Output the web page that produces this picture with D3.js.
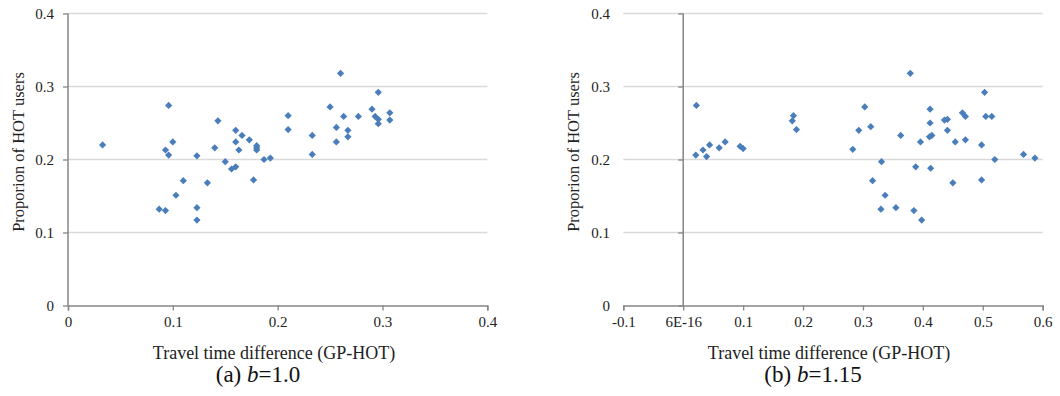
<!DOCTYPE html>
<html>
<head>
<meta charset="utf-8">
<script src="https://cdn.jsdelivr.net/npm/d3@7"></script>
<style>
  html, body { margin: 0; padding: 0; background: #fff; }
  svg { display: block; }
  svg text { font-family: "Liberation Serif", "Times New Roman", serif !important; }
</style>
</head>
<body>
<svg id="chart" width="1060" height="396"></svg>
<script>
// ---- Data ----
const yTicks = [0, 0.1, 0.2, 0.3, 0.4];
const yTickLabels = ["0", "0.1", "0.2", "0.3", "0.4"];

const xTicksA = [0, 0.1, 0.2, 0.3, 0.4];
const xTickLabelsA = ["0", "0.1", "0.2", "0.3", "0.4"];
const xTicksB = [-0.1, 0, 0.1, 0.2, 0.3, 0.4, 0.5, 0.6];
const xTickLabelsB = ["-0.1", "6E-16", "0.1", "0.2", "0.3", "0.4", "0.5", "0.6"];

// Panel (a) b=1.0
const xA = [0.033, 0.096, 0.100, 0.093, 0.096, 0.123, 0.143, 0.140, 0.110, 0.103,
            0.087, 0.093, 0.123, 0.123, 0.133, 0.150, 0.156, 0.160, 0.160, 0.160,
            0.163, 0.166, 0.173, 0.180, 0.180, 0.180, 0.177, 0.187, 0.193, 0.210,
            0.210, 0.233, 0.233, 0.250, 0.260, 0.256, 0.256, 0.263, 0.267, 0.267,
            0.277, 0.290, 0.296, 0.293, 0.296, 0.296, 0.307, 0.307];
const yA = [0.220, 0.274, 0.224, 0.213, 0.206, 0.205, 0.253, 0.216, 0.171, 0.151,
            0.132, 0.130, 0.134, 0.117, 0.168, 0.197, 0.187, 0.190, 0.240, 0.224,
            0.213, 0.233, 0.227, 0.219, 0.216, 0.213, 0.172, 0.200, 0.202, 0.260,
            0.241, 0.233, 0.207, 0.272, 0.318, 0.244, 0.224, 0.259, 0.240, 0.231,
            0.259, 0.269, 0.292, 0.259, 0.255, 0.249, 0.264, 0.254];

// Panel (b) b=1.15
const xB = [0.022, 0.021, 0.033, 0.039, 0.044, 0.060, 0.070, 0.095, 0.100, 0.184,
            0.182, 0.189, 0.283, 0.293, 0.303, 0.313, 0.331, 0.316, 0.337, 0.330,
            0.355, 0.363, 0.379, 0.385, 0.388, 0.396, 0.398, 0.412, 0.412, 0.411,
            0.415, 0.413, 0.436, 0.441, 0.441, 0.450, 0.454, 0.466, 0.471, 0.471,
            0.498, 0.498, 0.503, 0.505, 0.515, 0.520, 0.568, 0.587];
const yB = [0.274, 0.206, 0.213, 0.204, 0.220, 0.216, 0.224, 0.218, 0.215, 0.260,
            0.253, 0.241, 0.214, 0.240, 0.272, 0.245, 0.197, 0.171, 0.151, 0.132,
            0.134, 0.233, 0.318, 0.130, 0.190, 0.224, 0.117, 0.269, 0.250, 0.231,
            0.233, 0.188, 0.254, 0.255, 0.240, 0.168, 0.224, 0.264, 0.259, 0.227,
            0.220, 0.172, 0.292, 0.259, 0.259, 0.200, 0.207, 0.202];

const yTitle = "Proporion of HOT users";
const xTitle = "Travel time difference (GP-HOT)";

// ---- Drawing ----
const svg = d3.select("#chart");
const AXIS = "#868686", GRID = "#d9d9d9", MARK = "#4a7ebb";
const FONT = "Liberation Serif, Times New Roman, serif";

function panel(cfg) {
  const x = d3.scaleLinear().domain(cfg.xDomain).range(cfg.xRange);
  const y = d3.scaleLinear().domain([0, 0.4]).range([305.5, 13.5]);
  const g = svg.append("g").attr("font-family", FONT);

  // gridlines
  g.append("g").selectAll("line").data(yTicks.filter(d => d > 0)).join("line")
    .attr("x1", cfg.xRange[0]).attr("x2", cfg.xRange[1])
    .attr("y1", d => y(d)).attr("y2", d => y(d))
    .attr("stroke", GRID).attr("stroke-width", 1.3);

  // x axis
  const xAxis = d3.axisBottom(x).tickValues(cfg.xTicks)
    .tickFormat((d, i) => cfg.xLabels[i]).tickSize(5).tickPadding(6);
  const gx = g.append("g").attr("transform", `translate(0,${y(0)})`).call(xAxis)
    .attr("font-family", FONT);
  gx.select(".domain").attr("stroke", AXIS).attr("stroke-width", 1.5);
  gx.selectAll(".tick line").attr("stroke", AXIS).attr("stroke-width", 1.3);
  gx.selectAll(".tick text").attr("fill", "#222").attr("font-size", 15)
    .attr("font-family", FONT);

  // y axis line with ticks at x = 0 position
  const yAxis = d3.axisLeft(y).tickValues(yTicks).tickFormat("").tickSize(5);
  const gy = g.append("g").attr("transform", `translate(${x(cfg.yAxisAt)},0)`).call(yAxis);
  gy.select(".domain").attr("stroke", AXIS).attr("stroke-width", 1.5)
    .attr("d", `M0,${y(0)}V${y(0.4)}`);
  gy.selectAll(".tick line").attr("stroke", AXIS).attr("stroke-width", 1.3);

  // y tick labels at left
  g.append("g").selectAll("text").data(yTicks).join("text")
    .attr("x", cfg.yLabelX).attr("y", d => y(d)).attr("dy", "0.35em")
    .attr("text-anchor", "end").attr("font-size", 15).attr("fill", "#222")
    .attr("font-family", FONT)
    .text((d, i) => yTickLabels[i]);

  // markers
  const sym = d3.symbol().type(d3.symbolSquare).size(26);
  g.append("g").selectAll("path").data(cfg.xs.map((v, i) => [v, cfg.ys[i]])).join("path")
    .attr("d", sym)
    .attr("transform", d => `translate(${x(d[0])},${y(d[1])}) rotate(45)`)
    .attr("fill", MARK);

  // titles
  g.append("text").attr("transform", `translate(${cfg.yTitleX},152) rotate(-90)`)
    .attr("text-anchor", "middle").attr("font-size", 16.5).attr("fill", "#222")
    .attr("font-family", FONT)
    .text(yTitle);
  g.append("text").attr("x", cfg.xTitleX).attr("y", 359)
    .attr("text-anchor", "middle").attr("font-size", 18).attr("fill", "#222")
    .attr("font-family", FONT)
    .text(xTitle);
  const cap = g.append("text").attr("x", cfg.capX).attr("y", 382)
    .attr("text-anchor", "middle").attr("font-size", 23).attr("fill", "#111")
    .attr("font-family", FONT);
  cap.append("tspan").text(cfg.capPre);
  cap.append("tspan").attr("font-style", "italic").text("b");
  cap.append("tspan").text(cfg.capPost);
}

panel({
  xDomain: [0, 0.4], xRange: [68, 487.3], xTicks: xTicksA, xLabels: xTickLabelsA,
  yAxisAt: 0, yLabelX: 54, xs: xA, ys: yA, yTitleX: 24, xTitleX: 274,
  capX: 258, capPre: "(a) ", capPost: "=1.0"
});
panel({
  xDomain: [-0.1, 0.6], xRange: [623.3, 1042.7], xTicks: xTicksB, xLabels: xTickLabelsB,
  yAxisAt: 0, yLabelX: 610, xs: xB, ys: yB, yTitleX: 579, xTitleX: 829,
  capX: 813, capPre: "(b) ", capPost: "=1.15"
});
</script>
</body>
</html>
